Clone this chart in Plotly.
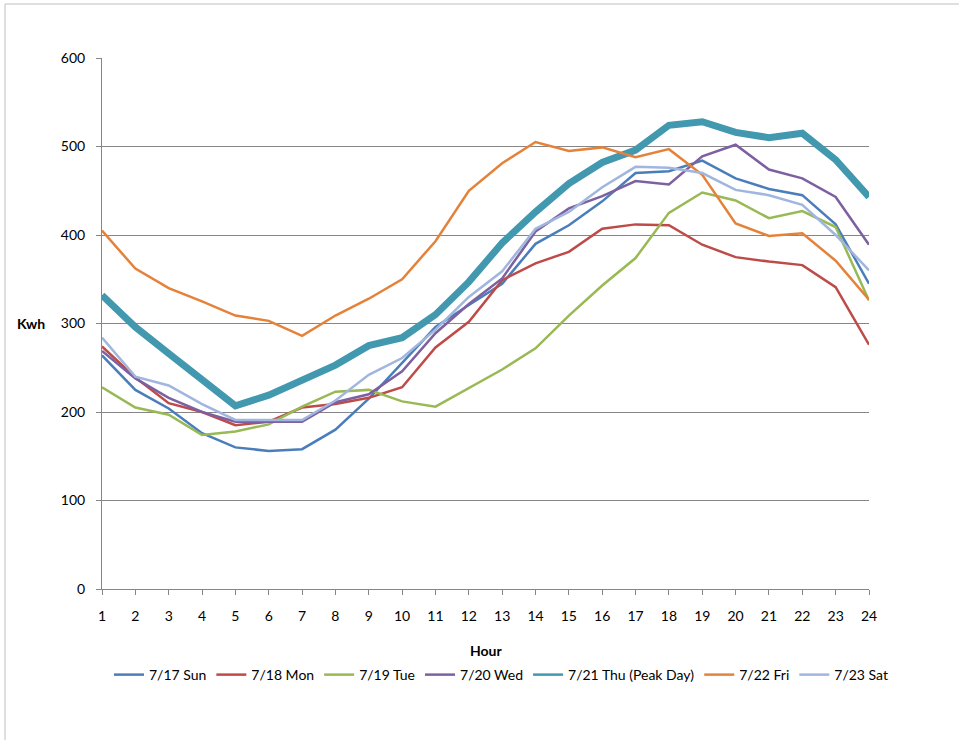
import plotly.graph_objects as go

# Hourly load (kWh) for the week of 7/17 - 7/23
hours = list(range(1, 25))

sun = [264, 225, 204, 176, 160, 156, 158, 180, 215, 255, 296, 321,
       345, 390, 411, 438, 470, 472, 484, 464, 452, 445, 412, 345]
mon = [274, 239, 210, 200, 185, 189, 205, 209, 216, 228, 273, 302,
       349, 368, 381, 407, 412, 411, 389, 375, 370, 366, 341, 276]
tue = [228, 205, 197, 174, 178, 186, 206, 223, 225, 212, 206, 227,
       248, 272, 309, 343, 374, 425, 448, 439, 419, 427, 409, 326]
wed = [269, 238, 216, 200, 189, 189, 189, 211, 220, 246, 289, 322,
       351, 404, 430, 444, 461, 457, 489, 502, 474, 464, 443, 389]
thu = [332, 296, 266, 236, 207, 219, 236, 253, 275, 284, 310, 347,
       391, 426, 458, 482, 496, 524, 528, 516, 510, 515, 485, 443]
fri = [405, 362, 340, 325, 309, 303, 286, 309, 328, 350, 393, 450,
       481, 505, 495, 499, 488, 497, 468, 413, 399, 402, 371, 327]
sat = [284, 240, 230, 209, 191, 191, 191, 213, 242, 261, 293, 330,
       359, 407, 426, 454, 477, 476, 470, 451, 445, 434, 400, 360]

series_names = ["7/17 Sun", "7/18 Mon", "7/19 Tue", "7/20 Wed",
                "7/21 Thu (Peak Day)", "7/22 Fri", "7/23 Sat"]
series_values = [sun, mon, tue, wed, thu, fri, sat]
colors = ["#4A7EBB", "#BE4B48", "#98B954", "#7D60A0",
          "#4198AF", "#E5823A", "#A0B6DE"]
widths = [2.5, 2.5, 2.5, 2.5, 7, 2.5, 2.5]

FONT = "Lato, 'Liberation Sans', sans-serif"
AXIS = "#868686"

fig = go.Figure()
for name, vals, col, w in zip(series_names, series_values, colors, widths):
    thick = w > 3
    fig.add_trace(go.Scatter(
        x=hours, y=vals, mode="lines", name=name,
        line=dict(color=col, width=w),
        legendgroup=name, showlegend=not thick,
    ))
    if thick:
        # thin legend sample for the highlighted day
        fig.add_trace(go.Scatter(
            x=[None], y=[None], mode="lines", name=name,
            line=dict(color=col, width=2.5),
            legendgroup=name, showlegend=True,
        ))

fig.update_layout(
    width=959, height=740,
    margin=dict(l=102, r=90, t=58, b=151),
    paper_bgcolor="white", plot_bgcolor="white",
    font=dict(family=FONT, size=14, color="#000000"),
    showlegend=True,
    legend=dict(
        orientation="h", x=(893 - 102) / 767, xanchor="right",
        y=-0.162, yanchor="middle",
        font=dict(family=FONT, size=14, color="#000000"),
        itemwidth=30, tracegroupgap=0, traceorder="normal",
        bgcolor="rgba(0,0,0,0)",
    ),
    xaxis=dict(
        range=[1, 24], tickmode="linear", tick0=1, dtick=1,
        showgrid=False, showline=True, linecolor=AXIS, linewidth=1,
        ticks="outside", ticklen=5, tickcolor=AXIS, ticklabelstandoff=9,
        tickfont=dict(family=FONT, size=14), zeroline=False,
    ),
    yaxis=dict(
        range=[0, 600], tickmode="linear", tick0=0, dtick=100,
        showgrid=True, gridcolor=AXIS, gridwidth=1,
        showline=True, linecolor=AXIS, linewidth=1,
        ticks="outside", ticklen=5, tickcolor=AXIS, ticklabelstandoff=8,
        tickfont=dict(family=FONT, size=14), zeroline=False,
    ),
    annotations=[
        dict(text="<b>Kwh</b>", xref="paper", yref="paper",
             x=(31 - 102) / 767, y=(589 - 323) / 531,
             xanchor="center", yanchor="middle", showarrow=False,
             font=dict(family=FONT, size=14)),
        dict(text="<b>Hour</b>", xref="paper", yref="paper",
             x=(486 - 102) / 767, y=(589 - 650) / 531,
             xanchor="center", yanchor="middle", showarrow=False,
             font=dict(family=FONT, size=14)),
    ],
    shapes=[
        dict(type="rect", xref="paper", yref="paper",
             x0=(5 - 102) / 767, x1=1.2, y0=-0.4, y1=(589 - 4) / 531,
             line=dict(color="#BFBFBF", width=1), fillcolor="rgba(0,0,0,0)",
             layer="below"),
    ],
)

fig.write_html("out.html")
